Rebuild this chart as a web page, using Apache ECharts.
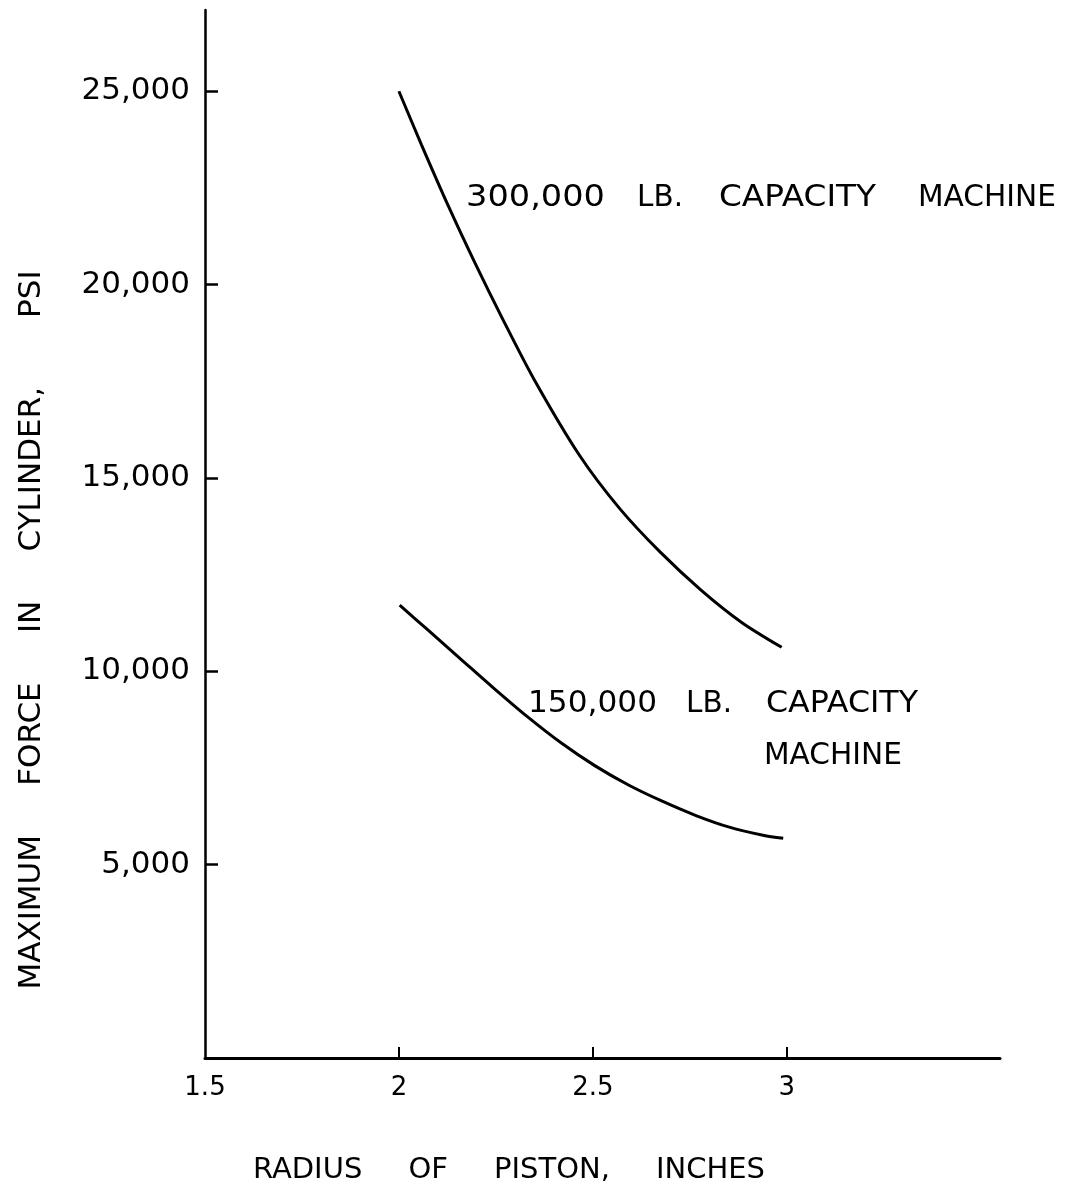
<!DOCTYPE html>
<html>
<head>
<meta charset="utf-8">
<script src="https://cdn.jsdelivr.net/npm/echarts@6/dist/echarts.min.js"></script>
<style>
  html, body { margin: 0; padding: 0; background: #fff; }
  #chart { width: 1067px; height: 1192px; }
</style>
</head>
<body>
<div id="chart"></div>
<script>
// piston radius (inches) -> max force in cylinder (psi)
const bigRadius = [2.0, 2.058, 2.128, 2.197, 2.266, 2.349, 2.466, 2.57, 2.674, 2.779, 2.883, 2.987];
const bigForce = [25000, 23620, 22020, 20540, 19140, 17540, 15580, 14200, 13080, 12100, 11270, 10620];
const smallRadius = [2.002, 2.071, 2.158, 2.245, 2.332, 2.418, 2.505, 2.592, 2.679, 2.766, 2.852, 2.939, 2.991];
const smallForce = [11710, 11100, 10330, 9560, 8820, 8150, 7560, 7060, 6640, 6270, 5970, 5760, 5680];
const xTicks = [1.5, 2, 2.5, 3];
const yTicks = [5000, 10000, 15000, 20000, 25000];

const FONT = 'DejaVu Sans';
const chart = echarts.init(document.getElementById('chart'));

const pairs = (xs, ys) => xs.map((x, i) => [x, ys[i]]);

const curve = (name, data) => ({
  name: name,
  type: 'line',
  data: data,
  smooth: 0.3,
  showSymbol: false,
  lineStyle: { color: '#000', width: 3 },
});

// hand lettering is wider than the font, so stretch each word to its width
const measure = document.createElement('canvas').getContext('2d');
measure.font = '30px "' + FONT + '"';

const word = (text, x, y, width) => ({
  type: 'text',
  x: x,
  y: y,
  originX: 0,
  scaleX: width / measure.measureText(text).width,
  style: {
    text: text,
    font: '30px "' + FONT + '"',
    fill: '#000',
    align: 'left',
    verticalAlign: 'middle',
  },
});

const centred = (text, x, y, size, rotation) => ({
  type: 'text',
  x: x,
  y: y,
  rotation: rotation || 0,
  style: {
    text: text,
    font: size + 'px "' + FONT + '"',
    fill: '#000',
    align: 'center',
    verticalAlign: 'middle',
  },
});

const option = {
  backgroundColor: '#fff',
  animation: false,
  grid: { left: 205, right: 67, top: 10, bottom: 134 },
  xAxis: {
    type: 'value',
    min: 1.5,
    max: 3.55,
    splitLine: { show: false },
    axisLine: { lineStyle: { color: '#000', width: 3 } },
    axisTick: {
      inside: true,
      length: 11,
      customValues: xTicks.slice(1),
      lineStyle: { color: '#000', width: 2 },
    },
    axisLabel: {
      customValues: xTicks,
      margin: 17,
      color: '#000',
      fontFamily: FONT,
      fontSize: 26,
      formatter: (v) => String(v),
    },
  },
  yAxis: {
    type: 'value',
    min: 0,
    max: 27100,
    splitLine: { show: false },
    axisLine: { lineStyle: { color: '#000', width: 2.5 } },
    axisTick: {
      inside: true,
      length: 13,
      customValues: yTicks,
      lineStyle: { color: '#000', width: 2.5 },
    },
    axisLabel: {
      customValues: yTicks,
      margin: 15,
      color: '#000',
      fontFamily: FONT,
      fontSize: 31,
      formatter: (v) => v.toLocaleString('en-US'),
    },
  },
  graphic: [
    word('300,000', 466, 198, 139),
    word('LB.', 637, 198, 46),
    word('CAPACITY', 719, 198, 157),
    word('MACHINE', 918, 198, 138),
    word('150,000', 528, 704, 129),
    word('LB.', 686, 704, 46),
    word('CAPACITY', 766, 704, 152),
    word('MACHINE', 764, 756, 138),
    centred('MAXIMUM     FORCE     IN     CYLINDER,       PSI', 32, 630, 31, Math.PI / 2),
    centred('RADIUS     OF     PISTON,     INCHES', 509, 1170, 29),
  ],
  series: [
    curve('300,000 lb', pairs(bigRadius, bigForce)),
    curve('150,000 lb', pairs(smallRadius, smallForce)),
  ],
};

chart.setOption(option);
</script>
</body>
</html>
